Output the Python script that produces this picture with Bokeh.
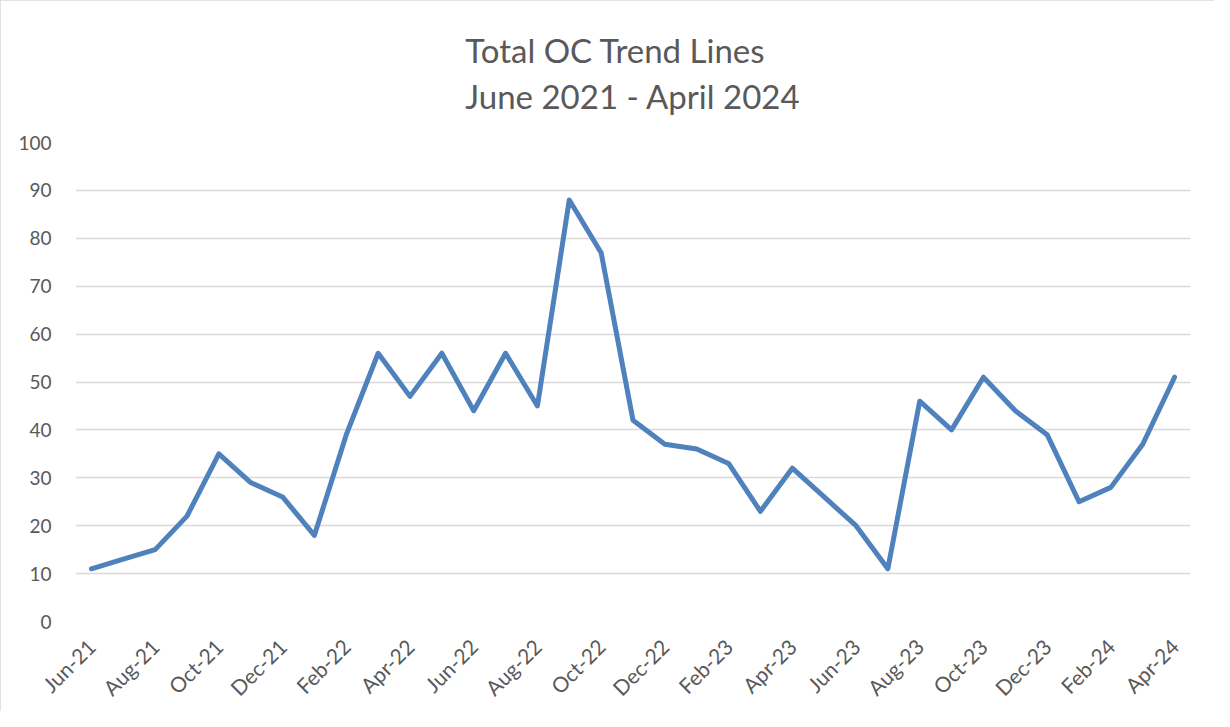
from bokeh.plotting import figure
from bokeh.models import FixedTicker, Title, Range1d
from bokeh.embed import file_html
from bokeh.resources import INLINE
import math

months = ["Jun-21", "Jul-21", "Aug-21", "Sep-21", "Oct-21", "Nov-21", "Dec-21",
          "Jan-22", "Feb-22", "Mar-22", "Apr-22", "May-22", "Jun-22", "Jul-22",
          "Aug-22", "Sep-22", "Oct-22", "Nov-22", "Dec-22", "Jan-23", "Feb-23",
          "Mar-23", "Apr-23", "May-23", "Jun-23", "Jul-23", "Aug-23", "Sep-23",
          "Oct-23", "Nov-23", "Dec-23", "Jan-24", "Feb-24", "Mar-24", "Apr-24"]
total_oc = [11, 13, 15, 22, 35, 29, 26, 18, 39, 56, 47, 56, 44, 56, 45, 88, 77,
            42, 37, 36, 33, 23, 32, 26, 20, 11, 46, 40, 51, 44, 39, 25, 28, 37, 51]
y_ticks = [0, 10, 20, 30, 40, 50, 60, 70, 80, 90, 100]
title_lines = ["Total OC Trend Lines", "June 2021 - April 2024"]

FONT = "Lato"
TXT = "#595959"

x_idx = list(range(len(months)))

p = figure(width=1214, height=711, output_backend="svg", toolbar_location=None,
           x_range=Range1d(-0.5, len(months) - 0.5), y_range=Range1d(0, 100),
           min_border_left=75, min_border_right=24, min_border_bottom=89, min_border_top=142)
p.styles = {"outline": "1px solid #d9d9d9", "outline-offset": "-1px"}
p.outline_line_color = None
p.background_fill_color = "white"
p.border_fill_color = "white"

p.line(x_idx, total_oc, line_color="#4f81bd", line_width=5, line_join="round", line_cap="round")

ttl = Title(text="\n".join(title_lines), align="center", text_font=FONT,
            text_font_size="33px", text_font_style="normal", text_color=TXT,
            text_line_height=1.15, standoff=54)
p.add_layout(ttl, "above")

p.xaxis.ticker = FixedTicker(ticks=x_idx[::2])
p.xaxis.major_label_overrides = {i: months[i] for i in x_idx[::2]}
p.xaxis.major_label_orientation = math.pi / 4
p.xaxis.axis_line_color = None
p.xaxis.major_tick_line_color = None
p.xaxis.minor_tick_line_color = None
p.xaxis.major_label_text_font = FONT
p.xaxis.major_label_text_font_size = "21px"
p.xaxis.major_label_text_color = TXT
p.xaxis.major_label_standoff = 15

p.yaxis.ticker = FixedTicker(ticks=y_ticks)
p.yaxis.axis_line_color = None
p.yaxis.major_tick_line_color = None
p.yaxis.minor_tick_line_color = None
p.yaxis.major_label_text_font = FONT
p.yaxis.major_label_text_font_size = "19px"
p.yaxis.major_label_text_color = TXT
p.yaxis.major_label_standoff = 18

p.xgrid.grid_line_color = None
p.ygrid.grid_line_color = "#d9d9d9"
p.ygrid.grid_line_width = 1.5

open("out.html", "w").write(file_html(p, INLINE))
